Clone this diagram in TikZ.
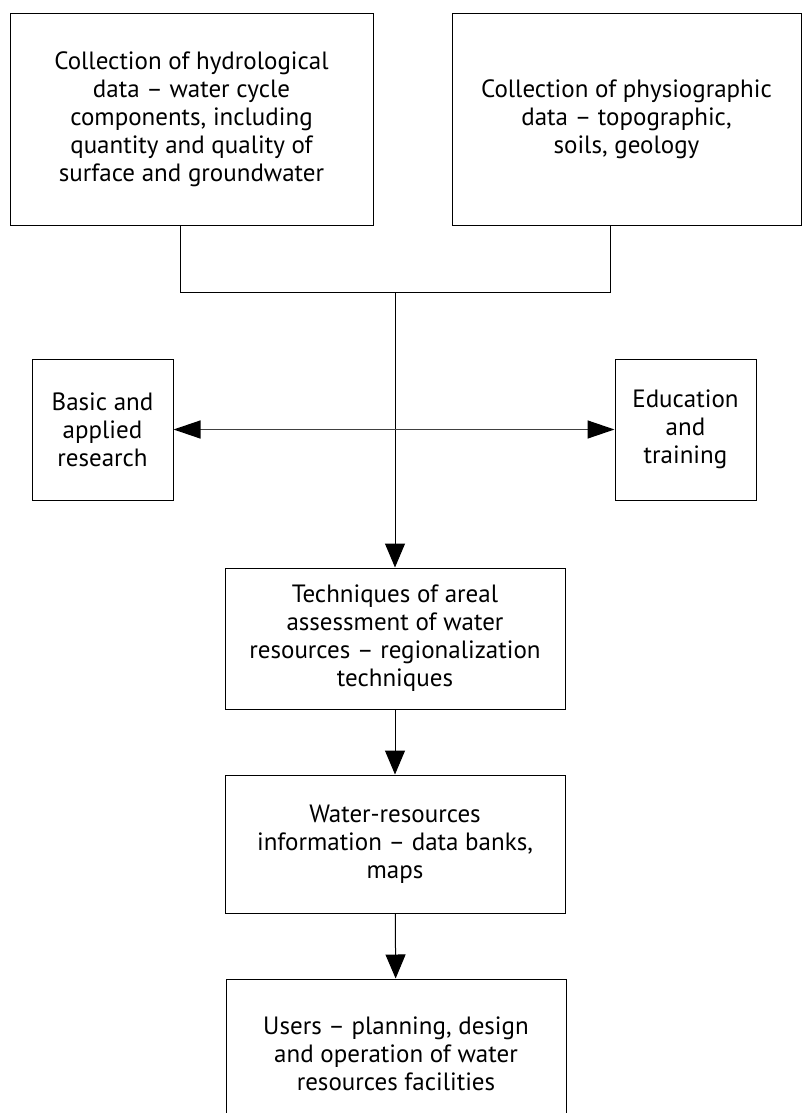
\documentclass[tikz,border=0pt]{standalone}
\usepackage{fontspec}
\setmainfont{PT Sans}
\usetikzlibrary{arrows.meta}

\begin{document}
\begin{tikzpicture}[x=1pt,y=-1pt,
  box/.style={draw=black,line width=1pt,align=center,inner sep=0pt,
    font=\fontsize{25}{28}\selectfont},
  flow/.style={draw=black,line width=1pt,-{Triangle[length=24pt,width=20pt]}},
  link/.style={draw=black!75,line width=1.4pt,
    {Triangle[length=27pt,width=18pt,color=black]}-{Triangle[length=27pt,width=18pt,color=black]}}]
  \clip (0,0) rectangle (802,1113);
  \node[box,minimum width=363pt,minimum height=211pt] (hydro) at (191.5,119.5)
    {Collection of hydrological\\data -- water cycle\\components, including\\quantity and quality of\\surface and groundwater};
  \node[box,minimum width=349pt,minimum height=211pt] (physio) at (626.5,119.5)
    {Collection of physiographic\\data -- topographic,\\soils, geology};
  \node[box,minimum width=141pt,minimum height=141pt] (basic) at (102.5,429.5)
    {Basic and\\applied\\research};
  \node[box,minimum width=141pt,minimum height=141pt] (edu) at (685.5,429.5)
    {Education\\and\\training};
  \node[box,minimum width=340pt,minimum height=141pt] (tech) at (395,638.5)
    {Techniques of areal\\assessment of water\\resources -- regionalization\\techniques};
  \node[box,minimum width=340pt,minimum height=138pt] (info) at (395,844)
    {Water-resources\\information -- data banks,\\maps};
  \node[box,minimum width=340pt,minimum height=150pt] (users) at (396,1054)
    {Users -- planning, design\\and operation of water\\resources facilities};
  \coordinate (lj) at (180,292);
  \coordinate (rj) at (610,292);
  \coordinate (hub) at (395,292);
  % bracket joining the two data boxes
  \draw[line width=1pt] (lj |- hydro.south) -- (lj) -- (rj) -- (rj |- physio.south);
  \draw[flow] (hub) -- (tech);
  \draw[link] (basic) -- (edu);
  \draw[flow] (tech) -- (info);
  \draw[flow] (info) -- (users);
\end{tikzpicture}
\end{document}
